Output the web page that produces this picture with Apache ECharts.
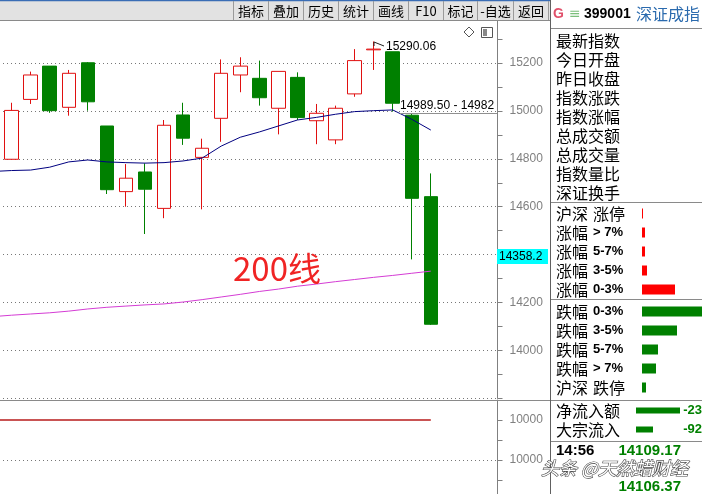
<!DOCTYPE html>
<html><head><meta charset="utf-8">
<script src="https://cdn.jsdelivr.net/npm/echarts/dist/echarts.min.js"></script>
<style>html,body{margin:0;padding:0;background:#fff;overflow:hidden}#c{width:702px;height:494px}</style>
</head><body><div id="c"></div>
<script>
// ---- data ----
const categories = ['K0','K1','K2','K3','K4','K5','K6','K7','K8','K9','K10','K11','K12','K13','K14','K15','K16','K17','K18','K19','K20','K21','K22','K23','K24','K25','K26'];
const kOpen  = [14878,14798,15048,15187,15015,15201,14937,14663,14745,14593,14983,14806,14969,15150,15136,15011,15140,14959,14879,15071,15255,15247,14982,14642];
const kClose = [14792,15002,15150,15001,15157,15038,14671,14719,14673,14940,14886,14844,15157,15187,15055,15165,14972,14990,15011,15210,15258,15032,14635,14109.17];
const kLow   = [14785,14798,15029,14992,14980,15001,14653,14600,14486,14552,14858,14589,14871,15078,15022,14902,14962,14861,14861,15059,15171,14997,14380,14106];
const kHigh  = [14885,15034,15164,15187,15171,15204,14937,14778,14781,14962,15034,14884,15215,15224,15210,15165,15161,15029,15022,15258,15290.06,15247,14989.5,14739];
const maBlue = [14747,14751,14753,14765,14787,14795,14787,14784,14782,14784,14791,14803,14853,14890,14912,14937,14962,14973,14986,14997,15001,15004,14965,14920];
const ma200  = [14141,14147,14152,14157,14164,14173,14180,14185,14190,14194,14202,14212,14223,14234,14246,14256,14268,14277,14287,14296,14305,14313,14322,14331];
const indLine = [4,4,4,4,4,4,4,4,4,4,4,4,4,4,4,4,4,4,4,4,4,4,4,4];
const indTickLabels = ['10000','10000'];
const toolbarLabels = ['指标','叠加','历史','统计','画线','F10','标记','-自选','返回'];
const panelLabels = ['最新指数','今日开盘','昨日收盘','指数涨跌','指数涨幅','总成交额','总成交量','指数量比','深证换手'];
const riseCats = [['沪深','涨停'],['涨幅','> 7%'],['涨幅','5-7%'],['涨幅','3-5%'],['涨幅','0-3%']];
const riseVals = [1,3,3,5,33];
const fallCats = [['跌幅','0-3%'],['跌幅','3-5%'],['跌幅','5-7%'],['跌幅','> 7%'],['沪深','跌停']];
const fallVals = [62,35,16,14,4];
const flowCats = ['净流入额','大宗流入'];
const flowVals = [44,17];
const flowTexts = ['-23','-92'];
const quoteTime = '14:56';
const quotePrices = ['14109.17','14106.37'];
const highNote = '15290.06';
const priceNote = '14989.50 - 14982';
const cursorNote = '14358.2';

// ---- chart ----
const chart = echarts.init(document.getElementById('c'), null, {renderer:'canvas'});
const kData = kOpen.map((o,i)=>[o,kClose[i],kLow[i],kHigh[i]]);
const gray = '#808080';
const dotted = {type:[1,3], color:'#777', width:1};
const hidCat = (gi, data, inv) => ({type:'category', gridIndex:gi, data, inverse:!!inv, show:false, boundaryGap:true});
const hidVal = (gi, max) => ({type:'value', gridIndex:gi, min:0, max, show:false});
const G = {outerBoundsMode:'none', containLabel:false};

const graphics = [];
// toolbar
graphics.push({type:'rect', shape:{x:0,y:0,width:550,height:21}, style:{fill:'#e2e2e2'}, z:100});
graphics.push({type:'line', shape:{x1:0,y1:0.5,x2:550,y2:0.5}, style:{stroke:'#3a6db5',lineWidth:1.5}, z:101});
graphics.push({type:'line', shape:{x1:0,y1:20.5,x2:550,y2:20.5}, style:{stroke:'#8a8a8a',lineWidth:1}, z:101});
const seps = [233,268,303,338,373,408,443,477,513,548];
seps.forEach(x=>graphics.push({type:'line', shape:{x1:x+0.5,y1:1,x2:x+0.5,y2:20}, style:{stroke:'#9a9a9a',lineWidth:1}, z:101}));
toolbarLabels.forEach((t,i)=>graphics.push({type:'text', x:(seps[i]+seps[i+1])/2+0.5, y:11.5, style:{text:t, fill:'#000', font:"13px 'Noto Sans CJK SC'", textAlign:'center', textVerticalAlign:'middle'}, z:102}));
// icons
graphics.push({type:'polygon', shape:{points:[[469,27],[474,32],[469,37],[464,32]]}, style:{fill:'#fff',stroke:'#555',lineWidth:1}, z:50});
graphics.push({type:'rect', shape:{x:481.5,y:27.5,width:11,height:10}, style:{fill:'#fff',stroke:'#555',lineWidth:1}, z:50});
graphics.push({type:'rect', shape:{x:483,y:29,width:4,height:7}, style:{fill:'#888'}, z:51});
// separators
graphics.push({type:'line', shape:{x1:550.5,y1:0,x2:550.5,y2:494}, style:{stroke:'#606060',lineWidth:1}, z:60});
graphics.push({type:'line', shape:{x1:0,y1:400.5,x2:550,y2:400.5}, style:{stroke:'#8a8a8a',lineWidth:1}, z:60});
[[28.5],[202.5],[299.5],[400.5],[441.5]].forEach(([y])=>graphics.push({type:'line', shape:{x1:551,y1:y,x2:702,y2:y}, style:{stroke:'#8a8a8a',lineWidth:1}, z:60}));
// header
graphics.push({type:'text', x:553, y:14, style:{text:'G', fill:'#e0506a', font:"bold 14px 'Liberation Sans'", textVerticalAlign:'middle'}, z:60});
graphics.push({type:'text', x:569, y:14, style:{text:'≡', fill:'#7cbf7c', font:"14px 'DejaVu Sans'", textVerticalAlign:'middle'}, z:60});
graphics.push({type:'text', x:584, y:14, style:{text:'399001', fill:'#000', font:"bold 14px 'Liberation Sans'", textVerticalAlign:'middle'}, z:60});
graphics.push({type:'text', x:636, y:14, style:{text:'深证成指', fill:'#2a6aae', font:"16px 'Noto Sans CJK SC'", textVerticalAlign:'middle'}, z:60});
panelLabels.forEach((t,i)=>graphics.push({type:'text', x:556, y:41+19*i, style:{text:t, fill:'#000', font:"16px 'Noto Sans CJK SC'", textVerticalAlign:'middle'}, z:60}));
const catText = (pair, y) => {
  graphics.push({type:'text', x:556, y, style:{text:pair[0], fill:'#000', font:"16px 'Noto Sans CJK SC'", textVerticalAlign:'middle'}, z:60});
  const cjk = /[\u4e00-\u9fff]/.test(pair[1]);
  graphics.push({type:'text', x:593, y, style:{text:pair[1], fill:'#000', font: cjk ? "16px 'Noto Sans CJK SC'" : "bold 13px 'Liberation Sans'", textVerticalAlign:'middle'}, z:60});
};
riseCats.forEach((p,i)=>catText(p, 213.5+19*i));
fallCats.forEach((p,i)=>catText(p, 311.5+19*i));
flowCats.forEach((t,i)=>graphics.push({type:'text', x:556, y:411+19*i, style:{text:t, fill:'#000', font:"16px 'Noto Sans CJK SC'", textVerticalAlign:'middle'}, z:60}));
flowTexts.forEach((t,i)=>graphics.push({type:'text', x:702, y:410.5+19*i, style:{text:t, fill:'#008000', font:"bold 13px 'Liberation Sans'", textAlign:'right', textVerticalAlign:'middle'}, z:60}));
graphics.push({type:'text', x:556, y:451, style:{text:quoteTime, fill:'#000', font:"bold 15px 'Liberation Sans'", textVerticalAlign:'middle'}, z:60});
graphics.push({type:'text', x:681, y:451, style:{text:quotePrices[0], fill:'#008000', font:"bold 15px 'Liberation Sans'", textAlign:'right', textVerticalAlign:'middle'}, z:60});
graphics.push({type:'text', x:681, y:487, style:{text:quotePrices[1], fill:'#008000', font:"bold 15px 'Liberation Sans'", textAlign:'right', textVerticalAlign:'middle'}, z:60});
graphics.push({type:'text', x:541, y:468, style:{text:'头条 @天然蜡财经', fill:'#ffffff', stroke:'#4a4a4a', lineWidth:1.2, font:"italic 18px 'Noto Sans CJK SC'", textVerticalAlign:'middle'}, z:70});
// annotations
graphics.push({type:'polyline', shape:{points:[[384,46],[374,42],[374,46]]}, style:{stroke:'#222',lineWidth:1,fill:null}, z:40});
graphics.push({type:'text', x:386, y:47, style:{text:highNote, fill:'#000', font:"12px 'Liberation Sans'", textVerticalAlign:'middle'}, z:40});
graphics.push({type:'line', shape:{x1:400,y1:113.5,x2:497,y2:113.5}, style:{stroke:'#909090',lineWidth:1}, z:40});
graphics.push({type:'text', x:400, y:106, style:{text:priceNote, fill:'#000', font:"12px 'Liberation Sans'", textVerticalAlign:'middle'}, z:40});
graphics.push({type:'text', x:233, y:268, style:{text:'200线', fill:'#f02424', font:"33px 'Noto Sans CJK SC'", textVerticalAlign:'middle'}, z:40});
graphics.push({type:'rect', shape:{x:497,y:249,width:51,height:15}, style:{fill:'#00ffff'}, z:45});
graphics.push({type:'text', x:499, y:256.5, style:{text:cursorNote, fill:'#000', font:"12px 'Liberation Sans'", textVerticalAlign:'middle'}, z:46});

chart.setOption({
  animation:false,
  backgroundColor:'#ffffff',
  grid:[
    Object.assign({left:-17, width:514.5, top:15.1, height:383.2}, G),
    Object.assign({left:-17, width:514.5, top:400, height:100}, G),
    Object.assign({left:642, width:60, top:204, height:95}, G),
    Object.assign({left:642, width:60, top:302, height:95}, G),
    Object.assign({left:636, width:44, top:401, height:38}, G)
  ],
  xAxis:[
    hidCat(0, categories), hidCat(1, categories),
    hidVal(2, 60), hidVal(3, 60), hidVal(4, 44)
  ],
  yAxis:[
    {type:'value', gridIndex:0, position:'right', min:13800, max:15400, interval:200, scale:true,
     axisLine:{show:true, lineStyle:{color:gray, width:1}},
     axisTick:{show:true, inside:false, length:5, lineStyle:{color:gray}},
     minorTick:{show:true, splitNumber:2, length:5, lineStyle:{color:gray}},
     axisLabel:{color:gray, fontSize:12, fontFamily:'Liberation Sans', margin:12, showMinLabel:false, showMaxLabel:false,
       formatter:v=>String(v)},
     splitLine:{show:true, lineStyle:dotted}},
    {type:'value', gridIndex:1, position:'right', min:0, max:5, interval:1,
     axisLine:{show:true, lineStyle:{color:gray, width:1}},
     axisTick:{show:true, inside:false, length:5, lineStyle:{color:gray}},
     axisLabel:{color:gray, fontSize:12, fontFamily:'Liberation Sans', margin:12, showMinLabel:false, showMaxLabel:false,
       formatter:v=> v===2 ? indTickLabels[1] : (v===4 ? indTickLabels[0] : '')},
     splitLine:{show:false}},
    hidCat(2, riseCats.map(p=>p.join(' ')), true),
    hidCat(3, fallCats.map(p=>p.join(' ')), true),
    hidCat(4, flowCats, true)
  ],
  series:[
    {type:'candlestick', xAxisIndex:0, yAxisIndex:0, data:kData, barWidth:14, z:2,
     itemStyle:{color:'#ffffff', color0:'#008000', borderColor:'#e01010', borderColor0:'#008000', borderWidth:1}},
    {type:'line', xAxisIndex:0, yAxisIndex:0, data:ma200, symbol:'none', z:3, lineStyle:{color:'#d43cd4', width:1}},
    {type:'line', xAxisIndex:0, yAxisIndex:0, data:maBlue, symbol:'none', z:3, lineStyle:{color:'#000080', width:1}},
    {type:'line', xAxisIndex:1, yAxisIndex:1, data:indLine, symbol:'none', z:3, lineStyle:{color:'#b81c1c', width:1.5},
     markLine:{silent:true, symbol:'none', label:{show:false}, lineStyle:dotted, data:[{yAxis:2}]}},
    {type:'bar', xAxisIndex:2, yAxisIndex:2, data:riseVals, barWidth:10, itemStyle:{color:'#ff0000'}},
    {type:'bar', xAxisIndex:3, yAxisIndex:3, data:fallVals, barWidth:10, itemStyle:{color:'#008000'}},
    {type:'bar', xAxisIndex:4, yAxisIndex:4, data:flowVals, barWidth:6, itemStyle:{color:'#008000'}}
  ],
  graphic:{elements:graphics}
});
</script></body></html>
